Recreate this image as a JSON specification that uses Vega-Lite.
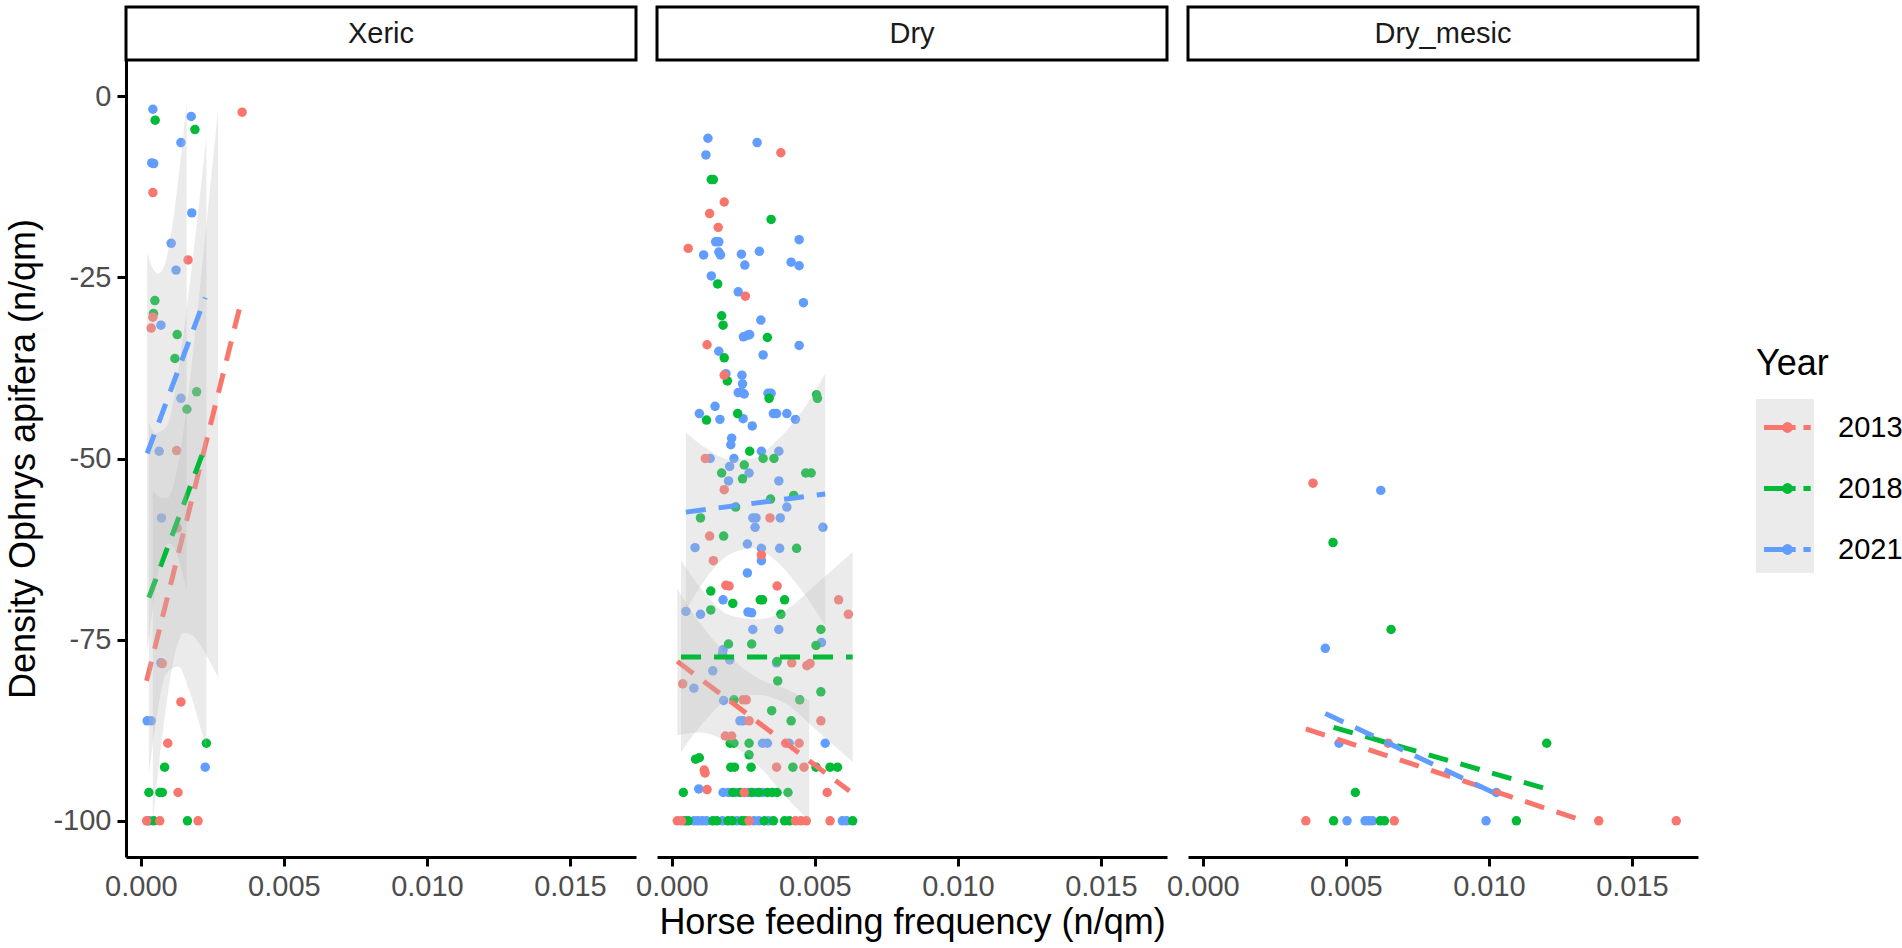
{
  "$schema": "https://vega.github.io/schema/vega-lite/v6.json",
  "padding": 5,
  "background": "white",
  "datasets": {
    "pts": [
      {"hab": "Xeric", "year": "2021", "x": 0.00042, "y": -1.8},
      {"hab": "Xeric", "year": "2021", "x": 0.00176, "y": -2.8},
      {"hab": "Xeric", "year": "2021", "x": 0.0014, "y": -6.4},
      {"hab": "Xeric", "year": "2021", "x": 0.00038, "y": -9.2},
      {"hab": "Xeric", "year": "2021", "x": 0.00045, "y": -9.3},
      {"hab": "Xeric", "year": "2021", "x": 0.00178, "y": -16.1},
      {"hab": "Xeric", "year": "2021", "x": 0.00106, "y": -20.3},
      {"hab": "Xeric", "year": "2021", "x": 0.00123, "y": -24},
      {"hab": "Xeric", "year": "2021", "x": 0.0007, "y": -31.6},
      {"hab": "Xeric", "year": "2021", "x": 0.0014, "y": -41.7},
      {"hab": "Xeric", "year": "2021", "x": 0.00064, "y": -49},
      {"hab": "Xeric", "year": "2021", "x": 0.00072, "y": -58.2},
      {"hab": "Xeric", "year": "2021", "x": 0.0007, "y": -78.2},
      {"hab": "Xeric", "year": "2021", "x": 0.00022, "y": -86.2},
      {"hab": "Xeric", "year": "2021", "x": 0.00036, "y": -86.2},
      {"hab": "Xeric", "year": "2021", "x": 0.00225, "y": -92.6},
      {"hab": "Xeric", "year": "2021", "x": 0.00029, "y": -100},
      {"hab": "Xeric", "year": "2021", "x": 0.00025, "y": -100},
      {"hab": "Xeric", "year": "2018", "x": 0.0005, "y": -3.3},
      {"hab": "Xeric", "year": "2018", "x": 0.00189, "y": -4.6},
      {"hab": "Xeric", "year": "2018", "x": 0.00049, "y": -28.2},
      {"hab": "Xeric", "year": "2018", "x": 0.00044, "y": -30},
      {"hab": "Xeric", "year": "2018", "x": 0.00127, "y": -32.9},
      {"hab": "Xeric", "year": "2018", "x": 0.00119, "y": -36.2},
      {"hab": "Xeric", "year": "2018", "x": 0.00195, "y": -40.8},
      {"hab": "Xeric", "year": "2018", "x": 0.00161, "y": -43.2},
      {"hab": "Xeric", "year": "2018", "x": 0.00229, "y": -89.3},
      {"hab": "Xeric", "year": "2018", "x": 0.00083, "y": -92.6},
      {"hab": "Xeric", "year": "2018", "x": 0.00028, "y": -96.1},
      {"hab": "Xeric", "year": "2018", "x": 0.00066, "y": -96.1},
      {"hab": "Xeric", "year": "2018", "x": 0.00075, "y": -96.1},
      {"hab": "Xeric", "year": "2018", "x": 0.00045, "y": -100},
      {"hab": "Xeric", "year": "2018", "x": 0.00163, "y": -100},
      {"hab": "Xeric", "year": "2013", "x": 0.00354, "y": -2.2},
      {"hab": "Xeric", "year": "2013", "x": 0.00042, "y": -13.3},
      {"hab": "Xeric", "year": "2013", "x": 0.00165, "y": -22.6},
      {"hab": "Xeric", "year": "2013", "x": 0.00042, "y": -30.5},
      {"hab": "Xeric", "year": "2013", "x": 0.00036, "y": -32},
      {"hab": "Xeric", "year": "2013", "x": 0.00125, "y": -48.9},
      {"hab": "Xeric", "year": "2013", "x": 0.00127, "y": -59.6},
      {"hab": "Xeric", "year": "2013", "x": 0.00075, "y": -78.3},
      {"hab": "Xeric", "year": "2013", "x": 0.0014, "y": -83.6},
      {"hab": "Xeric", "year": "2013", "x": 0.00094, "y": -89.3},
      {"hab": "Xeric", "year": "2013", "x": 0.0013, "y": -96.1},
      {"hab": "Xeric", "year": "2013", "x": 0.0002, "y": -100},
      {"hab": "Xeric", "year": "2013", "x": 0.00066, "y": -100},
      {"hab": "Xeric", "year": "2013", "x": 0.002, "y": -100},

      {"hab": "Dry", "year": "2021", "x": 0.00126, "y": -5.8},
      {"hab": "Dry", "year": "2021", "x": 0.00298, "y": -6.4},
      {"hab": "Dry", "year": "2021", "x": 0.00119, "y": -8.1},
      {"hab": "Dry", "year": "2021", "x": 0.00153, "y": -20.1},
      {"hab": "Dry", "year": "2021", "x": 0.00164, "y": -20.1},
      {"hab": "Dry", "year": "2021", "x": 0.00445, "y": -19.8},
      {"hab": "Dry", "year": "2021", "x": 0.00111, "y": -21.9},
      {"hab": "Dry", "year": "2021", "x": 0.00164, "y": -21.5},
      {"hab": "Dry", "year": "2021", "x": 0.0017, "y": -21.9},
      {"hab": "Dry", "year": "2021", "x": 0.00243, "y": -21.8},
      {"hab": "Dry", "year": "2021", "x": 0.00306, "y": -21.4},
      {"hab": "Dry", "year": "2021", "x": 0.00417, "y": -22.9},
      {"hab": "Dry", "year": "2021", "x": 0.00445, "y": -23.4},
      {"hab": "Dry", "year": "2021", "x": 0.00255, "y": -23.3},
      {"hab": "Dry", "year": "2021", "x": 0.00138, "y": -24.8},
      {"hab": "Dry", "year": "2021", "x": 0.00232, "y": -27},
      {"hab": "Dry", "year": "2021", "x": 0.0046, "y": -28.5},
      {"hab": "Dry", "year": "2021", "x": 0.00311, "y": -30.9},
      {"hab": "Dry", "year": "2021", "x": 0.00272, "y": -32.9},
      {"hab": "Dry", "year": "2021", "x": 0.0025, "y": -33.2},
      {"hab": "Dry", "year": "2021", "x": 0.00264, "y": -33},
      {"hab": "Dry", "year": "2021", "x": 0.00445, "y": -34.4},
      {"hab": "Dry", "year": "2021", "x": 0.00164, "y": -35.2},
      {"hab": "Dry", "year": "2021", "x": 0.00319, "y": -35.7},
      {"hab": "Dry", "year": "2021", "x": 0.00189, "y": -38.3},
      {"hab": "Dry", "year": "2021", "x": 0.00245, "y": -38.5},
      {"hab": "Dry", "year": "2021", "x": 0.00247, "y": -39.7},
      {"hab": "Dry", "year": "2021", "x": 0.00232, "y": -40.9},
      {"hab": "Dry", "year": "2021", "x": 0.00245, "y": -40.9},
      {"hab": "Dry", "year": "2021", "x": 0.00253, "y": -41.1},
      {"hab": "Dry", "year": "2021", "x": 0.00336, "y": -41},
      {"hab": "Dry", "year": "2021", "x": 0.00347, "y": -41},
      {"hab": "Dry", "year": "2021", "x": 0.00151, "y": -42.8},
      {"hab": "Dry", "year": "2021", "x": 0.00096, "y": -43.8},
      {"hab": "Dry", "year": "2021", "x": 0.00168, "y": -44.6},
      {"hab": "Dry", "year": "2021", "x": 0.00249, "y": -44.5},
      {"hab": "Dry", "year": "2021", "x": 0.00355, "y": -43.8},
      {"hab": "Dry", "year": "2021", "x": 0.00366, "y": -43.8},
      {"hab": "Dry", "year": "2021", "x": 0.00402, "y": -43.8},
      {"hab": "Dry", "year": "2021", "x": 0.00432, "y": -44.6},
      {"hab": "Dry", "year": "2021", "x": 0.00281, "y": -45.5},
      {"hab": "Dry", "year": "2021", "x": 0.00209, "y": -47.2},
      {"hab": "Dry", "year": "2021", "x": 0.00206, "y": -48.1},
      {"hab": "Dry", "year": "2021", "x": 0.00313, "y": -49},
      {"hab": "Dry", "year": "2021", "x": 0.00374, "y": -49},
      {"hab": "Dry", "year": "2021", "x": 0.00134, "y": -50},
      {"hab": "Dry", "year": "2021", "x": 0.00217, "y": -50},
      {"hab": "Dry", "year": "2021", "x": 0.00202, "y": -51.1},
      {"hab": "Dry", "year": "2021", "x": 0.0027, "y": -52},
      {"hab": "Dry", "year": "2021", "x": 0.00198, "y": -53.1},
      {"hab": "Dry", "year": "2021", "x": 0.00374, "y": -53.1},
      {"hab": "Dry", "year": "2021", "x": 0.00402, "y": -56.7},
      {"hab": "Dry", "year": "2021", "x": 0.00283, "y": -58.2},
      {"hab": "Dry", "year": "2021", "x": 0.00294, "y": -58.2},
      {"hab": "Dry", "year": "2021", "x": 0.00379, "y": -58.2},
      {"hab": "Dry", "year": "2021", "x": 0.00291, "y": -59.5},
      {"hab": "Dry", "year": "2021", "x": 0.00528, "y": -59.5},
      {"hab": "Dry", "year": "2021", "x": 0.00081, "y": -62.3},
      {"hab": "Dry", "year": "2021", "x": 0.00264, "y": -61.8},
      {"hab": "Dry", "year": "2021", "x": 0.00313, "y": -62.4},
      {"hab": "Dry", "year": "2021", "x": 0.00377, "y": -62.4},
      {"hab": "Dry", "year": "2021", "x": 0.00313, "y": -64.1},
      {"hab": "Dry", "year": "2021", "x": 0.00264, "y": -65.8},
      {"hab": "Dry", "year": "2021", "x": 0.00179, "y": -69.5},
      {"hab": "Dry", "year": "2021", "x": 0.00049, "y": -71.1},
      {"hab": "Dry", "year": "2021", "x": 0.001, "y": -71.5},
      {"hab": "Dry", "year": "2021", "x": 0.00266, "y": -71.2},
      {"hab": "Dry", "year": "2021", "x": 0.00279, "y": -71.3},
      {"hab": "Dry", "year": "2021", "x": 0.00283, "y": -73.6},
      {"hab": "Dry", "year": "2021", "x": 0.00374, "y": -73.6},
      {"hab": "Dry", "year": "2021", "x": 0.00523, "y": -75.4},
      {"hab": "Dry", "year": "2021", "x": 0.00179, "y": -76.4},
      {"hab": "Dry", "year": "2021", "x": 0.00177, "y": -76.9},
      {"hab": "Dry", "year": "2021", "x": 0.00202, "y": -77.8},
      {"hab": "Dry", "year": "2021", "x": 0.00366, "y": -78.2},
      {"hab": "Dry", "year": "2021", "x": 0.00143, "y": -79.3},
      {"hab": "Dry", "year": "2021", "x": 0.00077, "y": -81.7},
      {"hab": "Dry", "year": "2021", "x": 0.00181, "y": -83.4},
      {"hab": "Dry", "year": "2021", "x": 0.00238, "y": -86.2},
      {"hab": "Dry", "year": "2021", "x": 0.00249, "y": -86.2},
      {"hab": "Dry", "year": "2021", "x": 0.00317, "y": -89.3},
      {"hab": "Dry", "year": "2021", "x": 0.00334, "y": -89.3},
      {"hab": "Dry", "year": "2021", "x": 0.0041, "y": -89.3},
      {"hab": "Dry", "year": "2021", "x": 0.00536, "y": -89.3},
      {"hab": "Dry", "year": "2021", "x": 0.00094, "y": -95.6},
      {"hab": "Dry", "year": "2021", "x": 0.00179, "y": -96.1},
      {"hab": "Dry", "year": "2021", "x": 0.00198, "y": -96.1},
      {"hab": "Dry", "year": "2021", "x": 0.00223, "y": -96.1},
      {"hab": "Dry", "year": "2021", "x": 0.00266, "y": -96.1},
      {"hab": "Dry", "year": "2021", "x": 0.00291, "y": -96.1},
      {"hab": "Dry", "year": "2021", "x": 0.00317, "y": -96.1},
      {"hab": "Dry", "year": "2021", "x": 0.00077, "y": -100},
      {"hab": "Dry", "year": "2021", "x": 0.00091, "y": -100},
      {"hab": "Dry", "year": "2021", "x": 0.00106, "y": -100},
      {"hab": "Dry", "year": "2021", "x": 0.00121, "y": -100},
      {"hab": "Dry", "year": "2021", "x": 0.00177, "y": -100},
      {"hab": "Dry", "year": "2021", "x": 0.00228, "y": -100},
      {"hab": "Dry", "year": "2021", "x": 0.00287, "y": -100},
      {"hab": "Dry", "year": "2021", "x": 0.00304, "y": -100},
      {"hab": "Dry", "year": "2021", "x": 0.00338, "y": -100},
      {"hab": "Dry", "year": "2021", "x": 0.00596, "y": -100},
      {"hab": "Dry", "year": "2021", "x": 0.00611, "y": -100},

      {"hab": "Dry", "year": "2018", "x": 0.00138, "y": -11.5},
      {"hab": "Dry", "year": "2018", "x": 0.00145, "y": -11.5},
      {"hab": "Dry", "year": "2018", "x": 0.00347, "y": -17},
      {"hab": "Dry", "year": "2018", "x": 0.0016, "y": -25.9},
      {"hab": "Dry", "year": "2018", "x": 0.00174, "y": -30.3},
      {"hab": "Dry", "year": "2018", "x": 0.00179, "y": -31.6},
      {"hab": "Dry", "year": "2018", "x": 0.00334, "y": -33.3},
      {"hab": "Dry", "year": "2018", "x": 0.00183, "y": -36.1},
      {"hab": "Dry", "year": "2018", "x": 0.00194, "y": -39.3},
      {"hab": "Dry", "year": "2018", "x": 0.0034, "y": -41.7},
      {"hab": "Dry", "year": "2018", "x": 0.00506, "y": -41.2},
      {"hab": "Dry", "year": "2018", "x": 0.00509, "y": -41.7},
      {"hab": "Dry", "year": "2018", "x": 0.00121, "y": -44.7},
      {"hab": "Dry", "year": "2018", "x": 0.0023, "y": -43.8},
      {"hab": "Dry", "year": "2018", "x": 0.00272, "y": -49},
      {"hab": "Dry", "year": "2018", "x": 0.00319, "y": -50},
      {"hab": "Dry", "year": "2018", "x": 0.00357, "y": -50},
      {"hab": "Dry", "year": "2018", "x": 0.00253, "y": -50.9},
      {"hab": "Dry", "year": "2018", "x": 0.00174, "y": -52},
      {"hab": "Dry", "year": "2018", "x": 0.00468, "y": -52},
      {"hab": "Dry", "year": "2018", "x": 0.00487, "y": -52},
      {"hab": "Dry", "year": "2018", "x": 0.00247, "y": -52.8},
      {"hab": "Dry", "year": "2018", "x": 0.00426, "y": -55.1},
      {"hab": "Dry", "year": "2018", "x": 0.00345, "y": -55.6},
      {"hab": "Dry", "year": "2018", "x": 0.00223, "y": -56.7},
      {"hab": "Dry", "year": "2018", "x": 0.001, "y": -58.2},
      {"hab": "Dry", "year": "2018", "x": 0.00181, "y": -60.7},
      {"hab": "Dry", "year": "2018", "x": 0.00436, "y": -62.4},
      {"hab": "Dry", "year": "2018", "x": 0.00136, "y": -68.3},
      {"hab": "Dry", "year": "2018", "x": 0.00309, "y": -69.5},
      {"hab": "Dry", "year": "2018", "x": 0.00317, "y": -69.5},
      {"hab": "Dry", "year": "2018", "x": 0.00213, "y": -70},
      {"hab": "Dry", "year": "2018", "x": 0.00394, "y": -69.5},
      {"hab": "Dry", "year": "2018", "x": 0.00136, "y": -70.9},
      {"hab": "Dry", "year": "2018", "x": 0.00381, "y": -71.5},
      {"hab": "Dry", "year": "2018", "x": 0.00521, "y": -73.6},
      {"hab": "Dry", "year": "2018", "x": 0.00504, "y": -75.8},
      {"hab": "Dry", "year": "2018", "x": 0.00198, "y": -75.6},
      {"hab": "Dry", "year": "2018", "x": 0.00279, "y": -75.6},
      {"hab": "Dry", "year": "2018", "x": 0.00368, "y": -78},
      {"hab": "Dry", "year": "2018", "x": 0.0037, "y": -80.7},
      {"hab": "Dry", "year": "2018", "x": 0.00521, "y": -82.2},
      {"hab": "Dry", "year": "2018", "x": 0.00217, "y": -83.3},
      {"hab": "Dry", "year": "2018", "x": 0.00447, "y": -83.3},
      {"hab": "Dry", "year": "2018", "x": 0.00349, "y": -84.8},
      {"hab": "Dry", "year": "2018", "x": 0.00417, "y": -86.2},
      {"hab": "Dry", "year": "2018", "x": 0.00204, "y": -89.3},
      {"hab": "Dry", "year": "2018", "x": 0.00217, "y": -89.3},
      {"hab": "Dry", "year": "2018", "x": 0.0027, "y": -89.3},
      {"hab": "Dry", "year": "2018", "x": 0.00083, "y": -91.5},
      {"hab": "Dry", "year": "2018", "x": 0.00096, "y": -91.3},
      {"hab": "Dry", "year": "2018", "x": 0.0027, "y": -90.9},
      {"hab": "Dry", "year": "2018", "x": 0.00206, "y": -92.6},
      {"hab": "Dry", "year": "2018", "x": 0.00219, "y": -92.6},
      {"hab": "Dry", "year": "2018", "x": 0.00277, "y": -92.6},
      {"hab": "Dry", "year": "2018", "x": 0.00423, "y": -92.6},
      {"hab": "Dry", "year": "2018", "x": 0.00504, "y": -92.6},
      {"hab": "Dry", "year": "2018", "x": 0.00553, "y": -92.6},
      {"hab": "Dry", "year": "2018", "x": 0.00579, "y": -92.6},
      {"hab": "Dry", "year": "2018", "x": 0.0004, "y": -96.1},
      {"hab": "Dry", "year": "2018", "x": 0.00213, "y": -96.1},
      {"hab": "Dry", "year": "2018", "x": 0.00238, "y": -96.1},
      {"hab": "Dry", "year": "2018", "x": 0.00279, "y": -96.1},
      {"hab": "Dry", "year": "2018", "x": 0.00304, "y": -96.1},
      {"hab": "Dry", "year": "2018", "x": 0.00334, "y": -96.1},
      {"hab": "Dry", "year": "2018", "x": 0.00351, "y": -96.1},
      {"hab": "Dry", "year": "2018", "x": 0.00368, "y": -96.1},
      {"hab": "Dry", "year": "2018", "x": 0.00406, "y": -96.1},
      {"hab": "Dry", "year": "2018", "x": 0.00045, "y": -100},
      {"hab": "Dry", "year": "2018", "x": 0.00057, "y": -100},
      {"hab": "Dry", "year": "2018", "x": 0.00143, "y": -100},
      {"hab": "Dry", "year": "2018", "x": 0.00157, "y": -100},
      {"hab": "Dry", "year": "2018", "x": 0.00196, "y": -100},
      {"hab": "Dry", "year": "2018", "x": 0.00211, "y": -100},
      {"hab": "Dry", "year": "2018", "x": 0.00245, "y": -100},
      {"hab": "Dry", "year": "2018", "x": 0.00257, "y": -100},
      {"hab": "Dry", "year": "2018", "x": 0.00323, "y": -100},
      {"hab": "Dry", "year": "2018", "x": 0.00355, "y": -100},
      {"hab": "Dry", "year": "2018", "x": 0.00394, "y": -100},
      {"hab": "Dry", "year": "2018", "x": 0.00411, "y": -100},
      {"hab": "Dry", "year": "2018", "x": 0.00632, "y": -100},

      {"hab": "Dry", "year": "2013", "x": 0.00381, "y": -7.8},
      {"hab": "Dry", "year": "2013", "x": 0.00183, "y": -14.6},
      {"hab": "Dry", "year": "2013", "x": 0.00132, "y": -16.2},
      {"hab": "Dry", "year": "2013", "x": 0.00162, "y": -18.1},
      {"hab": "Dry", "year": "2013", "x": 0.00057, "y": -21},
      {"hab": "Dry", "year": "2013", "x": 0.00257, "y": -27.6},
      {"hab": "Dry", "year": "2013", "x": 0.00123, "y": -34.3},
      {"hab": "Dry", "year": "2013", "x": 0.00183, "y": -38.5},
      {"hab": "Dry", "year": "2013", "x": 0.00117, "y": -50},
      {"hab": "Dry", "year": "2013", "x": 0.00183, "y": -54.3},
      {"hab": "Dry", "year": "2013", "x": 0.00343, "y": -58.2},
      {"hab": "Dry", "year": "2013", "x": 0.00132, "y": -60.7},
      {"hab": "Dry", "year": "2013", "x": 0.00313, "y": -63.3},
      {"hab": "Dry", "year": "2013", "x": 0.00145, "y": -64.1},
      {"hab": "Dry", "year": "2013", "x": 0.00189, "y": -67.5},
      {"hab": "Dry", "year": "2013", "x": 0.002, "y": -67.6},
      {"hab": "Dry", "year": "2013", "x": 0.00368, "y": -67.6},
      {"hab": "Dry", "year": "2013", "x": 0.00583, "y": -69.5},
      {"hab": "Dry", "year": "2013", "x": 0.00617, "y": -71.5},
      {"hab": "Dry", "year": "2013", "x": 0.00419, "y": -78.2},
      {"hab": "Dry", "year": "2013", "x": 0.00472, "y": -78.6},
      {"hab": "Dry", "year": "2013", "x": 0.00483, "y": -78.3},
      {"hab": "Dry", "year": "2013", "x": 0.00038, "y": -81.1},
      {"hab": "Dry", "year": "2013", "x": 0.00249, "y": -83.3},
      {"hab": "Dry", "year": "2013", "x": 0.0026, "y": -83.3},
      {"hab": "Dry", "year": "2013", "x": 0.0027, "y": -86.2},
      {"hab": "Dry", "year": "2013", "x": 0.00521, "y": -86.2},
      {"hab": "Dry", "year": "2013", "x": 0.00187, "y": -88.3},
      {"hab": "Dry", "year": "2013", "x": 0.00209, "y": -88.3},
      {"hab": "Dry", "year": "2013", "x": 0.00398, "y": -89.3},
      {"hab": "Dry", "year": "2013", "x": 0.00445, "y": -89.3},
      {"hab": "Dry", "year": "2013", "x": 0.00113, "y": -93},
      {"hab": "Dry", "year": "2013", "x": 0.00116, "y": -93.4},
      {"hab": "Dry", "year": "2013", "x": 0.00366, "y": -92.6},
      {"hab": "Dry", "year": "2013", "x": 0.00462, "y": -92.6},
      {"hab": "Dry", "year": "2013", "x": 0.00123, "y": -95.7},
      {"hab": "Dry", "year": "2013", "x": 0.00253, "y": -96.1},
      {"hab": "Dry", "year": "2013", "x": 0.00543, "y": -96.1},
      {"hab": "Dry", "year": "2013", "x": 0.00019, "y": -100},
      {"hab": "Dry", "year": "2013", "x": 0.00034, "y": -100},
      {"hab": "Dry", "year": "2013", "x": 0.0027, "y": -100},
      {"hab": "Dry", "year": "2013", "x": 0.00432, "y": -100},
      {"hab": "Dry", "year": "2013", "x": 0.00451, "y": -100},
      {"hab": "Dry", "year": "2013", "x": 0.0047, "y": -100},
      {"hab": "Dry", "year": "2013", "x": 0.00553, "y": -100},

      {"hab": "Dry_mesic", "year": "2013", "x": 0.00385, "y": -53.4},
      {"hab": "Dry_mesic", "year": "2013", "x": 0.00648, "y": -89.3},
      {"hab": "Dry_mesic", "year": "2013", "x": 0.0036, "y": -100},
      {"hab": "Dry_mesic", "year": "2013", "x": 0.00669, "y": -100},
      {"hab": "Dry_mesic", "year": "2013", "x": 0.01384, "y": -100},
      {"hab": "Dry_mesic", "year": "2013", "x": 0.01655, "y": -100},
      {"hab": "Dry_mesic", "year": "2021", "x": 0.00622, "y": -54.4},
      {"hab": "Dry_mesic", "year": "2021", "x": 0.00428, "y": -76.2},
      {"hab": "Dry_mesic", "year": "2021", "x": 0.00476, "y": -89.3},
      {"hab": "Dry_mesic", "year": "2021", "x": 0.01026, "y": -96.1},
      {"hab": "Dry_mesic", "year": "2021", "x": 0.00504, "y": -100},
      {"hab": "Dry_mesic", "year": "2021", "x": 0.00567, "y": -100},
      {"hab": "Dry_mesic", "year": "2021", "x": 0.0058, "y": -100},
      {"hab": "Dry_mesic", "year": "2021", "x": 0.00593, "y": -100},
      {"hab": "Dry_mesic", "year": "2021", "x": 0.0099, "y": -100},
      {"hab": "Dry_mesic", "year": "2018", "x": 0.00455, "y": -61.6},
      {"hab": "Dry_mesic", "year": "2018", "x": 0.00658, "y": -73.6},
      {"hab": "Dry_mesic", "year": "2018", "x": 0.01202, "y": -89.3},
      {"hab": "Dry_mesic", "year": "2018", "x": 0.00533, "y": -96.1},
      {"hab": "Dry_mesic", "year": "2018", "x": 0.00457, "y": -100},
      {"hab": "Dry_mesic", "year": "2018", "x": 0.0062, "y": -100},
      {"hab": "Dry_mesic", "year": "2018", "x": 0.00635, "y": -100},
      {"hab": "Dry_mesic", "year": "2018", "x": 0.01096, "y": -100}
    ],
    "fits": [
      {"hab": "Xeric", "year": "2013", "x": 0.0002, "y": -80.7},
      {"hab": "Xeric", "year": "2013", "x": 0.00354, "y": -27.8},
      {"hab": "Xeric", "year": "2018", "x": 0.00028, "y": -69.2},
      {"hab": "Xeric", "year": "2018", "x": 0.00229, "y": -47.9},
      {"hab": "Xeric", "year": "2021", "x": 0.00022, "y": -49.3},
      {"hab": "Xeric", "year": "2021", "x": 0.00225, "y": -27.8},
      {"hab": "Dry", "year": "2013", "x": 0.00019, "y": -78.0},
      {"hab": "Dry", "year": "2013", "x": 0.00621, "y": -95.9},
      {"hab": "Dry", "year": "2018", "x": 0.00032, "y": -77.4},
      {"hab": "Dry", "year": "2018", "x": 0.00632, "y": -77.4},
      {"hab": "Dry", "year": "2021", "x": 0.00049, "y": -57.4},
      {"hab": "Dry", "year": "2021", "x": 0.00536, "y": -54.9},
      {"hab": "Dry_mesic", "year": "2013", "x": 0.0036, "y": -87.3},
      {"hab": "Dry_mesic", "year": "2013", "x": 0.0133, "y": -100},
      {"hab": "Dry_mesic", "year": "2018", "x": 0.00457, "y": -87.1},
      {"hab": "Dry_mesic", "year": "2018", "x": 0.01202, "y": -95.6},
      {"hab": "Dry_mesic", "year": "2021", "x": 0.00428, "y": -85.2},
      {"hab": "Dry_mesic", "year": "2021", "x": 0.01026, "y": -96.3}
    ],
    "bands": [
      {"hab": "Xeric", "year": "2021", "x": 0.00022, "hi": -21.6, "lo": -76.8},
      {"hab": "Xeric", "year": "2021", "x": 0.0004, "hi": -23.6, "lo": -71.2},
      {"hab": "Xeric", "year": "2021", "x": 0.0006, "hi": -24.5, "lo": -65.9},
      {"hab": "Xeric", "year": "2021", "x": 0.0008, "hi": -23.6, "lo": -62.6},
      {"hab": "Xeric", "year": "2021", "x": 0.001, "hi": -20.3, "lo": -61.7},
      {"hab": "Xeric", "year": "2021", "x": 0.0012, "hi": -15, "lo": -62.6},
      {"hab": "Xeric", "year": "2021", "x": 0.0014, "hi": -8.4, "lo": -65},
      {"hab": "Xeric", "year": "2021", "x": 0.0016, "hi": -0.9, "lo": -68.1},
      {"hab": "Xeric", "year": "2018", "x": 0.00028, "hi": -45, "lo": -93.4},
      {"hab": "Xeric", "year": "2018", "x": 0.0005, "hi": -46.5, "lo": -87.1},
      {"hab": "Xeric", "year": "2018", "x": 0.0009, "hi": -45.6, "lo": -79.6},
      {"hab": "Xeric", "year": "2018", "x": 0.0013, "hi": -38.1, "lo": -78.7},
      {"hab": "Xeric", "year": "2018", "x": 0.0017, "hi": -26.1, "lo": -82.1},
      {"hab": "Xeric", "year": "2018", "x": 0.002, "hi": -16, "lo": -86},
      {"hab": "Xeric", "year": "2018", "x": 0.00229, "hi": -5.7, "lo": -90.1},
      {"hab": "Xeric", "year": "2013", "x": 0.00042, "hi": -54.4, "lo": -100},
      {"hab": "Xeric", "year": "2013", "x": 0.0006, "hi": -55.2, "lo": -93.4},
      {"hab": "Xeric", "year": "2013", "x": 0.0009, "hi": -55.5, "lo": -83.7},
      {"hab": "Xeric", "year": "2013", "x": 0.0012, "hi": -52.8, "lo": -76.8},
      {"hab": "Xeric", "year": "2013", "x": 0.0015, "hi": -45.9, "lo": -74.1},
      {"hab": "Xeric", "year": "2013", "x": 0.0018, "hi": -36.2, "lo": -74.4},
      {"hab": "Xeric", "year": "2013", "x": 0.0021, "hi": -25.1, "lo": -75.9},
      {"hab": "Xeric", "year": "2013", "x": 0.0024, "hi": -13.5, "lo": -77.9},
      {"hab": "Xeric", "year": "2013", "x": 0.0027, "hi": -1.8, "lo": -80.2},
      {"hab": "Dry", "year": "2021", "x": 0.00049, "hi": -46.4, "lo": -71},
      {"hab": "Dry", "year": "2021", "x": 0.0012, "hi": -48.6, "lo": -66.5},
      {"hab": "Dry", "year": "2021", "x": 0.002, "hi": -50.1, "lo": -63.3},
      {"hab": "Dry", "year": "2021", "x": 0.0028, "hi": -50, "lo": -62.4},
      {"hab": "Dry", "year": "2021", "x": 0.0036, "hi": -47.8, "lo": -64},
      {"hab": "Dry", "year": "2021", "x": 0.0045, "hi": -43.8, "lo": -68},
      {"hab": "Dry", "year": "2021", "x": 0.00536, "hi": -38.3, "lo": -73},
      {"hab": "Dry", "year": "2018", "x": 0.00032, "hi": -64, "lo": -90.5},
      {"hab": "Dry", "year": "2018", "x": 0.0012, "hi": -68.8, "lo": -86},
      {"hab": "Dry", "year": "2018", "x": 0.002, "hi": -71.6, "lo": -83.2},
      {"hab": "Dry", "year": "2018", "x": 0.003, "hi": -72.2, "lo": -82.6},
      {"hab": "Dry", "year": "2018", "x": 0.004, "hi": -70.9, "lo": -83.9},
      {"hab": "Dry", "year": "2018", "x": 0.005, "hi": -67.5, "lo": -87.3},
      {"hab": "Dry", "year": "2018", "x": 0.00632, "hi": -62.9, "lo": -91.9},
      {"hab": "Dry", "year": "2013", "x": 0.00019, "hi": -68, "lo": -88.2},
      {"hab": "Dry", "year": "2013", "x": 0.001, "hi": -72.8, "lo": -87.8},
      {"hab": "Dry", "year": "2013", "x": 0.002, "hi": -77.3, "lo": -89.3},
      {"hab": "Dry", "year": "2013", "x": 0.003, "hi": -80.3, "lo": -92.3},
      {"hab": "Dry", "year": "2013", "x": 0.004, "hi": -81.8, "lo": -96.8},
      {"hab": "Dry", "year": "2013", "x": 0.0048, "hi": -83.4, "lo": -100}
    ]
  },
  "spacing": -3,
  "resolve": {"scale": {"color": "shared", "fill": "shared"}, "legend": {"color": "shared", "fill": "shared"}},
  "hconcat": [
    {
      "spacing": 0,
      "bounds": "flush",
      "vconcat": [
        {
          "width": 510, "height": 53,
          "view": {"stroke": "black", "strokeWidth": 3, "fill": "white"},
          "data": {"values": [{"hab": "Xeric"}]},
          "mark": {"type": "text", "fontSize": 29, "color": "#1A1A1A"},
          "encoding": {"text": {"field": "hab", "type": "nominal"}}
        },
        {
          "width": 510, "height": 797,
          "layer": [
            {
              "data": {"name": "pts"},
              "transform": [{"filter": "datum.hab == 'Xeric'"}],
              "mark": {"type": "circle", "size": 90, "opacity": 1},
              "encoding": {
                "x": {"field": "x", "type": "quantitative", "title": null, "scale": {"domain": [-0.00052, 0.01731], "nice": false, "zero": false}, "axis": {"values": [0, 0.005, 0.01, 0.015], "format": ".3f"}},
                "y": {"field": "y", "type": "quantitative", "title": "Density Ophrys apifera (n/qm)", "scale": {"domain": [-105, 5], "nice": false, "zero": false}, "axis": {"values": [-100, -75, -50, -25, 0], "labelExpr": "toString(datum.value)"}},
                "color": {
                  "field": "year", "type": "nominal",
                  "scale": {"domain": ["2013", "2018", "2021"], "range": ["#F8766D", "#00BA38", "#619CFF"]},
                  "legend": {
                    "title": "Year", "orient": "none", "legendX": 1630, "legendY": 340, "zindex": 2,
                    "symbolType": "M-0.81,0L0.28,0M0.55,0L0.8,0M0.1,0A0.1,0.1,0,1,1,-0.1,0A0.1,0.1,0,1,1,0.1,0Z",
                    "symbolSize": 3364, "symbolStrokeWidth": 5, "symbolOpacity": 1,
                    "titleFontSize": 36, "titleFontWeight": "normal", "titleColor": "black", "titlePadding": 13,
                    "labelFontSize": 29, "labelColor": "black", "labelOffset": 19, "rowPadding": 14,
                    "encode": {"symbols": {"update": {"fill": {"scale": "color", "field": "value"}, "stroke": {"scale": "color", "field": "value"}}}}
                  }
                }
              }
            },
            {
              "data": {"name": "bands"},
              "transform": [{"filter": "datum.hab == 'Xeric' && datum.year == '2013'"}],
              "mark": {"type": "area", "opacity": 0.3, "interpolate": "monotone"},
              "encoding": {
                "x": {"field": "x", "type": "quantitative", "title": null},
                "y": {"field": "hi", "type": "quantitative", "title": "Density Ophrys apifera (n/qm)"}, "y2": {"field": "lo"},
                "fill": {
                  "field": "year", "type": "nominal",
                  "scale": {"range": ["#BEBEBE", "#BEBEBE", "#BEBEBE"]},
                  "legend": {
                    "title": null, "orient": "none", "legendX": 1630, "legendY": 392, "zindex": 1,
                    "symbolType": "square", "symbolSize": 3364, "symbolStrokeWidth": 0, "symbolOpacity": 0.3,
                    "labelExpr": "''", "labelFontSize": 1, "labelOffset": 0, "rowPadding": 0
                  }
                }
              }
            },
            {
              "data": {"name": "fits"},
              "transform": [{"filter": "datum.hab == 'Xeric' && datum.year == '2013'"}],
              "mark": {"type": "line", "color": "#F8766D", "strokeWidth": 5, "strokeDash": [20, 13], "strokeCap": "butt"},
              "encoding": {"x": {"field": "x", "type": "quantitative", "title": null}, "y": {"field": "y", "type": "quantitative", "title": "Density Ophrys apifera (n/qm)"}}
            },
            {
              "data": {"name": "bands"},
              "transform": [{"filter": "datum.hab == 'Xeric' && datum.year == '2018'"}],
              "mark": {"type": "area", "opacity": 0.3, "interpolate": "monotone"},
              "encoding": {
                "x": {"field": "x", "type": "quantitative", "title": null},
                "y": {"field": "hi", "type": "quantitative", "title": "Density Ophrys apifera (n/qm)"}, "y2": {"field": "lo"},
                "fill": {"field": "year", "type": "nominal", "scale": {"range": ["#BEBEBE", "#BEBEBE", "#BEBEBE"]}}
              }
            },
            {
              "data": {"name": "fits"},
              "transform": [{"filter": "datum.hab == 'Xeric' && datum.year == '2018'"}],
              "mark": {"type": "line", "color": "#00BA38", "strokeWidth": 5, "strokeDash": [20, 13], "strokeCap": "butt"},
              "encoding": {"x": {"field": "x", "type": "quantitative", "title": null}, "y": {"field": "y", "type": "quantitative", "title": "Density Ophrys apifera (n/qm)"}}
            },
            {
              "data": {"name": "bands"},
              "transform": [{"filter": "datum.hab == 'Xeric' && datum.year == '2021'"}],
              "mark": {"type": "area", "opacity": 0.3, "interpolate": "monotone"},
              "encoding": {
                "x": {"field": "x", "type": "quantitative", "title": null},
                "y": {"field": "hi", "type": "quantitative", "title": "Density Ophrys apifera (n/qm)"}, "y2": {"field": "lo"},
                "fill": {"field": "year", "type": "nominal", "scale": {"range": ["#BEBEBE", "#BEBEBE", "#BEBEBE"]}}
              }
            },
            {
              "data": {"name": "fits"},
              "transform": [{"filter": "datum.hab == 'Xeric' && datum.year == '2021'"}],
              "mark": {"type": "line", "color": "#619CFF", "strokeWidth": 5, "strokeDash": [20, 13], "strokeCap": "butt"},
              "encoding": {"x": {"field": "x", "type": "quantitative", "title": null}, "y": {"field": "y", "type": "quantitative", "title": "Density Ophrys apifera (n/qm)"}}
            }
          ]
        }
      ]
    },
    {
      "spacing": 0,
      "bounds": "flush",
      "vconcat": [
        {
          "width": 510, "height": 53,
          "view": {"stroke": "black", "strokeWidth": 3, "fill": "white"},
          "data": {"values": [{"hab": "Dry"}]},
          "mark": {"type": "text", "fontSize": 29, "color": "#1A1A1A"},
          "encoding": {"text": {"field": "hab", "type": "nominal"}}
        },
        {
          "width": 510, "height": 797,
          "layer": [
            {
              "data": {"name": "pts"},
              "transform": [{"filter": "datum.hab == 'Dry'"}],
              "mark": {"type": "circle", "size": 90, "opacity": 1},
              "encoding": {
                "x": {"field": "x", "type": "quantitative", "title": "Horse feeding frequency (n/qm)", "scale": {"domain": [-0.00052, 0.01731], "nice": false, "zero": false}, "axis": {"values": [0, 0.005, 0.01, 0.015], "format": ".3f"}},
                "y": {"field": "y", "type": "quantitative", "scale": {"domain": [-105, 5], "nice": false, "zero": false}, "axis": null},
                "color": {"field": "year", "type": "nominal", "scale": {"domain": ["2013", "2018", "2021"], "range": ["#F8766D", "#00BA38", "#619CFF"]}}
              }
            },
            {
              "data": {"name": "bands"},
              "transform": [{"filter": "datum.hab == 'Dry' && datum.year == '2013'"}],
              "mark": {"type": "area", "opacity": 0.3, "interpolate": "monotone"},
              "encoding": {
                "x": {"field": "x", "type": "quantitative", "title": "Horse feeding frequency (n/qm)"},
                "y": {"field": "hi", "type": "quantitative", "axis": null}, "y2": {"field": "lo"},
                "fill": {"field": "year", "type": "nominal", "scale": {"range": ["#BEBEBE", "#BEBEBE", "#BEBEBE"]}}
              }
            },
            {
              "data": {"name": "fits"},
              "transform": [{"filter": "datum.hab == 'Dry' && datum.year == '2013'"}],
              "mark": {"type": "line", "color": "#F8766D", "strokeWidth": 5, "strokeDash": [20, 13], "strokeCap": "butt"},
              "encoding": {"x": {"field": "x", "type": "quantitative", "title": "Horse feeding frequency (n/qm)"}, "y": {"field": "y", "type": "quantitative", "axis": null}}
            },
            {
              "data": {"name": "bands"},
              "transform": [{"filter": "datum.hab == 'Dry' && datum.year == '2018'"}],
              "mark": {"type": "area", "opacity": 0.3, "interpolate": "monotone"},
              "encoding": {
                "x": {"field": "x", "type": "quantitative", "title": "Horse feeding frequency (n/qm)"},
                "y": {"field": "hi", "type": "quantitative", "axis": null}, "y2": {"field": "lo"},
                "fill": {"field": "year", "type": "nominal", "scale": {"range": ["#BEBEBE", "#BEBEBE", "#BEBEBE"]}}
              }
            },
            {
              "data": {"name": "fits"},
              "transform": [{"filter": "datum.hab == 'Dry' && datum.year == '2018'"}],
              "mark": {"type": "line", "color": "#00BA38", "strokeWidth": 5, "strokeDash": [20, 13], "strokeCap": "butt"},
              "encoding": {"x": {"field": "x", "type": "quantitative", "title": "Horse feeding frequency (n/qm)"}, "y": {"field": "y", "type": "quantitative", "axis": null}}
            },
            {
              "data": {"name": "bands"},
              "transform": [{"filter": "datum.hab == 'Dry' && datum.year == '2021'"}],
              "mark": {"type": "area", "opacity": 0.3, "interpolate": "monotone"},
              "encoding": {
                "x": {"field": "x", "type": "quantitative", "title": "Horse feeding frequency (n/qm)"},
                "y": {"field": "hi", "type": "quantitative", "axis": null}, "y2": {"field": "lo"},
                "fill": {"field": "year", "type": "nominal", "scale": {"range": ["#BEBEBE", "#BEBEBE", "#BEBEBE"]}}
              }
            },
            {
              "data": {"name": "fits"},
              "transform": [{"filter": "datum.hab == 'Dry' && datum.year == '2021'"}],
              "mark": {"type": "line", "color": "#619CFF", "strokeWidth": 5, "strokeDash": [20, 13], "strokeCap": "butt"},
              "encoding": {"x": {"field": "x", "type": "quantitative", "title": "Horse feeding frequency (n/qm)"}, "y": {"field": "y", "type": "quantitative", "axis": null}}
            }
          ]
        }
      ]
    },
    {
      "spacing": 0,
      "bounds": "flush",
      "vconcat": [
        {
          "width": 510, "height": 53,
          "view": {"stroke": "black", "strokeWidth": 3, "fill": "white"},
          "data": {"values": [{"hab": "Dry_mesic"}]},
          "mark": {"type": "text", "fontSize": 29, "color": "#1A1A1A"},
          "encoding": {"text": {"field": "hab", "type": "nominal"}}
        },
        {
          "width": 510, "height": 797,
          "layer": [
            {
              "data": {"name": "pts"},
              "transform": [{"filter": "datum.hab == 'Dry_mesic'"}],
              "mark": {"type": "circle", "size": 90, "opacity": 1},
              "encoding": {
                "x": {"field": "x", "type": "quantitative", "title": null, "scale": {"domain": [-0.00052, 0.01731], "nice": false, "zero": false}, "axis": {"values": [0, 0.005, 0.01, 0.015], "format": ".3f"}},
                "y": {"field": "y", "type": "quantitative", "scale": {"domain": [-105, 5], "nice": false, "zero": false}, "axis": null},
                "color": {"field": "year", "type": "nominal", "scale": {"domain": ["2013", "2018", "2021"], "range": ["#F8766D", "#00BA38", "#619CFF"]}}
              }
            },
            {
              "data": {"name": "fits"},
              "transform": [{"filter": "datum.hab == 'Dry_mesic' && datum.year == '2013'"}],
              "mark": {"type": "line", "color": "#F8766D", "strokeWidth": 5, "strokeDash": [20, 13], "strokeCap": "butt"},
              "encoding": {"x": {"field": "x", "type": "quantitative", "title": null}, "y": {"field": "y", "type": "quantitative", "axis": null}}
            },
            {
              "data": {"name": "fits"},
              "transform": [{"filter": "datum.hab == 'Dry_mesic' && datum.year == '2018'"}],
              "mark": {"type": "line", "color": "#00BA38", "strokeWidth": 5, "strokeDash": [20, 13], "strokeCap": "butt"},
              "encoding": {"x": {"field": "x", "type": "quantitative", "title": null}, "y": {"field": "y", "type": "quantitative", "axis": null}}
            },
            {
              "data": {"name": "fits"},
              "transform": [{"filter": "datum.hab == 'Dry_mesic' && datum.year == '2021'"}],
              "mark": {"type": "line", "color": "#619CFF", "strokeWidth": 5, "strokeDash": [20, 13], "strokeCap": "butt"},
              "encoding": {"x": {"field": "x", "type": "quantitative", "title": null}, "y": {"field": "y", "type": "quantitative", "axis": null}}
            }
          ]
        }
      ]
    }
  ],
  "config": {
    "font": "Liberation Sans",
    "view": {"stroke": null},
    "axis": {
      "grid": false,
      "domainColor": "black", "domainWidth": 3,
      "tickColor": "black", "tickWidth": 3, "tickSize": 9,
      "labelColor": "#4D4D4D", "labelFontSize": 29, "labelPadding": 6, "labelFont": "Liberation Sans",
      "titleFontSize": 36, "titleFontWeight": "normal", "titleColor": "black", "titleFont": "Liberation Sans"
    },
    "axisX": {"titlePadding": 4},
    "axisY": {"titlePadding": 10},
    "legend": {"labelFont": "Liberation Sans", "titleFont": "Liberation Sans"}
  }
}
